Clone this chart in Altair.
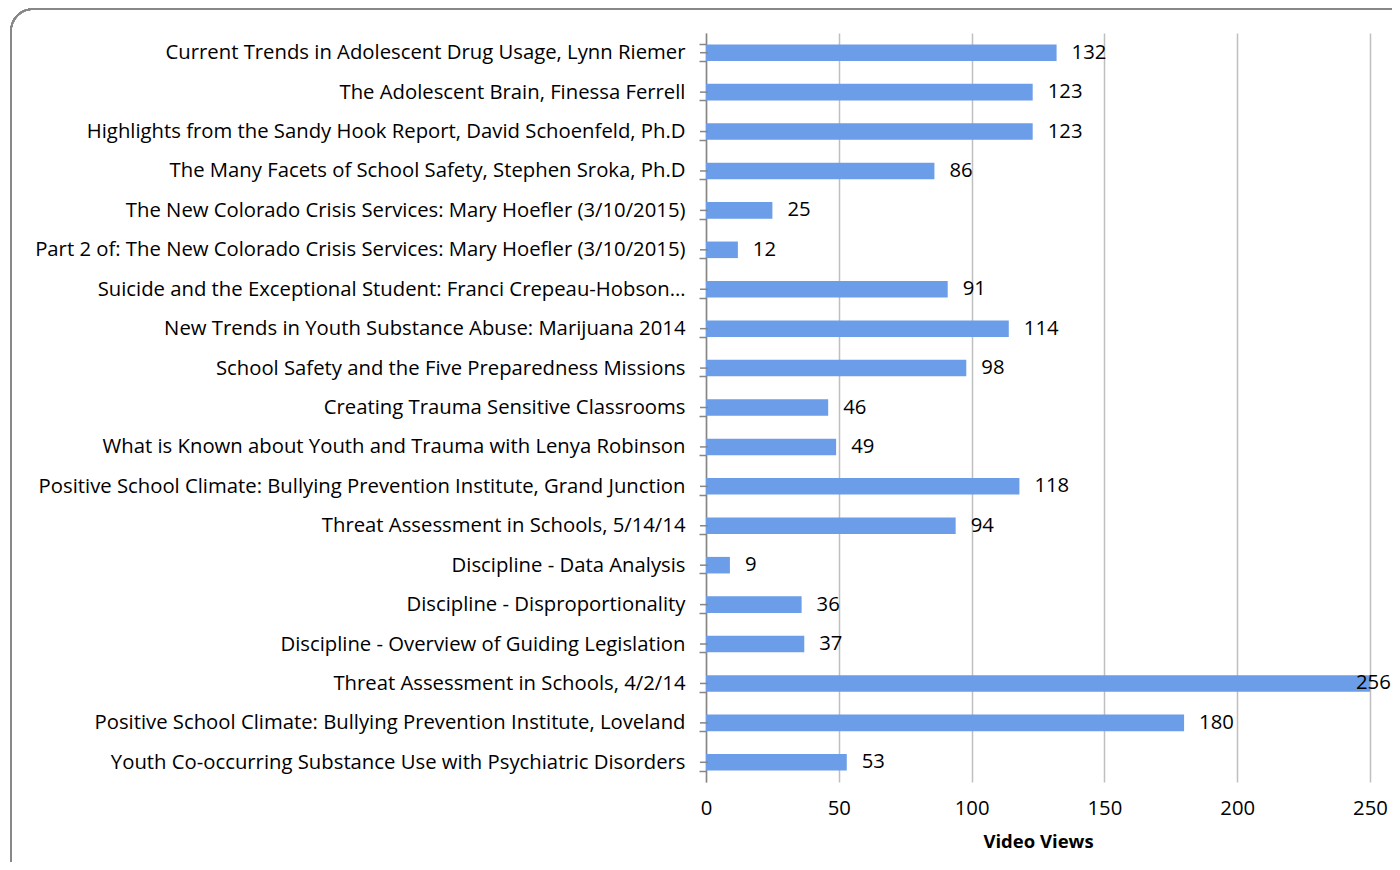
import altair as alt
import pandas as pd

titles = [
    "Current Trends in Adolescent Drug Usage, Lynn Riemer",
    "The Adolescent Brain, Finessa Ferrell",
    "Highlights from the Sandy Hook Report, David Schoenfeld, Ph.D",
    "The Many Facets of School Safety, Stephen Sroka, Ph.D",
    "The New Colorado Crisis Services: Mary Hoefler (3/10/2015)",
    "Part 2 of: The New Colorado Crisis Services: Mary Hoefler (3/10/2015)",
    "Suicide and the Exceptional Student: Franci Crepeau-Hobson…",
    "New Trends in Youth Substance Abuse: Marijuana 2014",
    "School Safety and the Five Preparedness Missions",
    "Creating Trauma Sensitive Classrooms",
    "What is Known about Youth and Trauma with Lenya Robinson",
    "Positive School Climate: Bullying Prevention Institute, Grand Junction",
    "Threat Assessment in Schools, 5/14/14",
    "Discipline - Data Analysis",
    "Discipline - Disproportionality",
    "Discipline - Overview of Guiding Legislation",
    "Threat Assessment in Schools, 4/2/14",
    "Positive School Climate: Bullying Prevention Institute, Loveland",
    "Youth Co-occurring Substance Use with Psychiatric Disorders",
]
views = [132, 123, 123, 86, 25, 12, 91, 114, 98, 46, 49, 118, 94, 9, 36, 37, 256, 180, 53]
x_ticks = [0, 50, 100, 150, 200, 250]
axis_max = 250

df = pd.DataFrame({"event": titles, "views": views})

FONT = "Open Sans"
FS = 20.3
W, H = 664, 749

y_enc = alt.Y("event:N", sort=titles, title=None,
              scale=alt.Scale(paddingInner=0.58, paddingOuter=0.29),
              axis=alt.Axis(labelFont=FONT, labelFontSize=FS, labelColor="#000000",
                            labelPadding=14, labelLimit=800, tickBand="extent",
                            tickSize=7, tickColor="#868686", tickWidth=1.5,
                            domainColor="#868686", domainWidth=1.5, grid=False))
x_scale = alt.Scale(domain=[0, axis_max], nice=False)

border = alt.Chart(df).mark_rect(
    fill=None, stroke="#888888", strokeWidth=1.5, cornerRadius=22
).encode(
    x=alt.value(-695), x2=alt.value(W + 120),
    y=alt.value(-24), y2=alt.value(H + 150)
)

bars = alt.Chart(df).mark_bar(color="#6b9de8", clip=True).encode(
    x=alt.X("views:Q", scale=x_scale, title="Video Views",
            axis=alt.Axis(values=x_ticks, grid=True, gridColor="#bfbfbf", gridWidth=1.5,
                          domain=False, ticks=False, labelFlush=False,
                          labelFont=FONT, labelFontSize=FS,
                          labelColor="#000000", labelPadding=16,
                          titleFont=FONT, titleFontSize=18.5, titleFontWeight="bold",
                          titleColor="#000000", titlePadding=14)),
    y=y_enc,
)

center_ticks = alt.Chart(df).mark_rule(color="#868686", strokeWidth=1.5).encode(
    y=alt.Y("event:N", sort=titles),
    x=alt.value(-6), x2=alt.value(2),
)

labels = alt.Chart(df).transform_filter(f"datum.views <= {axis_max}").mark_text(
    align="left", baseline="middle", dx=15, font=FONT, fontSize=FS, color="#000000"
).encode(
    x=alt.X("views:Q", scale=x_scale),
    y=alt.Y("event:N", sort=titles),
    text="views:Q",
)

labels_clipped = alt.Chart(df).transform_filter(f"datum.views > {axis_max}").transform_calculate(
    pos=f"{axis_max}"
).mark_text(
    align="left", baseline="middle", dx=-14, font=FONT, fontSize=FS, color="#000000"
).encode(
    x=alt.X("pos:Q", scale=x_scale),
    y=alt.Y("event:N", sort=titles),
    text="views:Q",
)

chart = alt.layer(border, bars, center_ticks, labels, labels_clipped).properties(
    width=W, height=H,
    background="#ffffff",
    autosize=alt.AutoSizeParams(type="none"),
    padding={"left": 698, "top": 25, "right": 22, "bottom": 80},
).configure_view(stroke=None, strokeWidth=0)

chart.save("out.html", embed_options={"renderer": "svg", "actions": False})
